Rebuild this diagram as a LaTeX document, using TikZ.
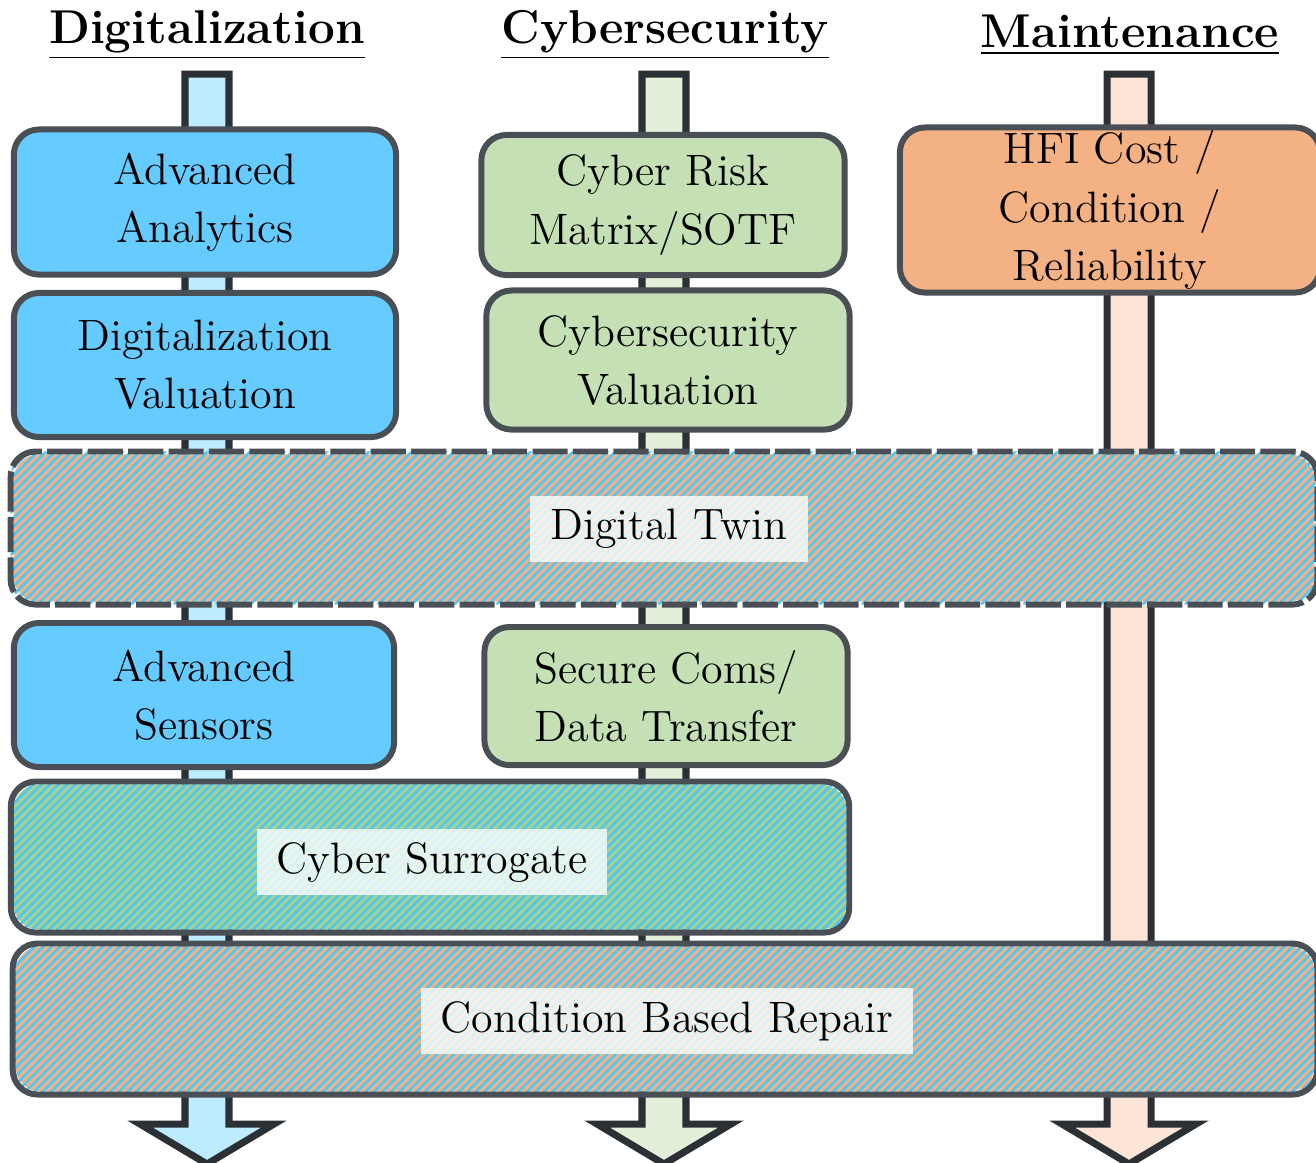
\documentclass[tikz,border=0pt]{standalone}
\usepackage{tikz}
\usetikzlibrary{calc}
\definecolor{digi}{HTML}{66CCFF}
\definecolor{cyber}{HTML}{C5E0B4}
\definecolor{maint}{HTML}{F4B183}
\definecolor{digiL}{HTML}{BDEBFF}
\definecolor{cyberL}{HTML}{E2F0D9}
\definecolor{maintL}{HTML}{FCE4D6}
\definecolor{greenS}{HTML}{A9D18E}
\definecolor{stripe}{HTML}{50C8F5}
\definecolor{edge}{HTML}{4A4F55}
\definecolor{shaftedge}{HTML}{2B3035}

\begin{document}
\begin{tikzpicture}[x=0.01cm,y=-0.01cm,
    box/.style={draw=edge,line width=1.7pt,rounded corners=0.25cm,align=center,inner sep=0pt,
        font=\fontsize{12.5}{16.5}\selectfont},
    striped/.style={box,draw=none,fill=#1},
    outline/.style={draw=edge,line width=1.7pt,rounded corners=0.25cm},
    stripeline/.style={draw=stripe,line width=0.75pt},
    tag/.style={fill=white,fill opacity=0.78,text opacity=1,inner xsep=0.2cm,minimum height=0.66cm,
        font=\fontsize{12.5}{16.5}\selectfont},
    shaft/.style={draw=shaftedge,line width=2pt,line join=miter},
    title/.style={font=\fontsize{13.5}{18}\selectfont\bfseries}]
    \useasboundingbox (0,0) rectangle (1316,1162);

    \foreach \x/\c in {207/digiL,664/cyberL,1129/maintL}
        \draw[shaft,fill=\c] (\x-22,74) -- (\x+22,74) -- (\x+22,1124) -- (\x+67,1124) -- (\x,1164)
            -- (\x-67,1124) -- (\x-22,1124) -- cycle;

    \node[title] (tdigi) at (207,35) {\underline{Digitalization}};
    \node[title] (tcyber) at (665,35) {\underline{Cybersecurity}};
    \node[title] (tmaint) at (1130,35) {\underline{Maintenance}};

    \node[box,fill=digi,minimum width=3.82cm,minimum height=1.45cm] (analytics) at (205,202) {Advanced\\Analytics};
    \node[box,fill=digi,minimum width=3.82cm,minimum height=1.44cm] (digival) at (205,365) {Digitalization\\Valuation};
    \node[box,fill=digi,minimum width=3.80cm,minimum height=1.44cm] (sensors) at (204,695) {Advanced\\Sensors};

    \node[box,fill=cyber,minimum width=3.63cm,minimum height=1.40cm] (risk) at (663,205) {Cyber Risk\\Matrix/SOTF};
    \node[box,fill=cyber,minimum width=3.63cm,minimum height=1.39cm] (cyberval) at (668,360) {Cybersecurity\\Valuation};
    \node[box,fill=cyber,minimum width=3.63cm,minimum height=1.38cm] (coms) at (666,696) {Secure Coms/\\Data Transfer};

    \node[box,fill=maint,minimum width=4.20cm,minimum height=1.65cm] (hfi) at (1110,210) {HFI Cost /\\Condition /\\Reliability};

    \node[striped=maint,minimum width=13.00cm,minimum height=1.47cm] (twin) at (664,528) {};
    \node[striped=greenS,minimum width=8.32cm,minimum height=1.45cm] (surrogate) at (430,857) {};
    \node[striped=maint,minimum width=12.98cm,minimum height=1.45cm] (cbr) at (665,1019) {};

    % diagonal stripes, then the outline on top
    \foreach \n in {twin,surrogate,cbr} {
        \begin{scope}
            \clip[rounded corners=0.25cm] (\n.north west) rectangle (\n.south east);
            \foreach \s in {-160,-151.5,...,1320}
                \draw[stripeline] ($(\n.south west)+(\s,0)$) -- ++(160,-160);
        \end{scope}
    }
    \draw[outline,dash pattern=on 10pt off 1.5pt] (twin.north west) rectangle (twin.south east);
    \draw[outline] (surrogate.north west) rectangle (surrogate.south east);
    \draw[outline] (cbr.north west) rectangle (cbr.south east);

    \node[tag] (twintag) at (669,529) {Digital Twin};
    \node[tag] (surrtag) at (432,862) {Cyber Surrogate};
    \node[tag] (cbrtag) at (667,1021) {Condition Based Repair};
\end{tikzpicture}
\end{document}
